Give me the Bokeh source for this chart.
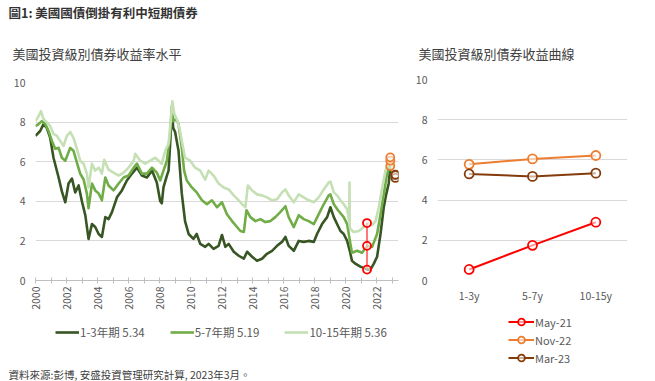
import math
from bokeh.plotting import figure
from bokeh.layouts import row, column
from bokeh.models import Legend, LegendItem, FixedTicker, Range1d, FactorRange, Title
from bokeh.embed import file_html
from bokeh.resources import INLINE

# ---------------- data ----------------
dates_13 = [2000.0, 2000.3, 2000.52, 2000.73, 2000.95, 2001.16, 2001.49, 2001.7, 2001.92, 2002.13,
            2002.35, 2002.56, 2002.78, 2002.99, 2003.21, 2003.42, 2003.64, 2003.85, 2004.07, 2004.28,
            2004.5, 2004.71, 2004.93, 2005.25, 2005.57, 2005.89, 2006.22, 2006.54, 2006.86, 2007.18,
            2007.51, 2007.82, 2008.04, 2008.14, 2008.25, 2008.47, 2008.58, 2008.68, 2008.79, 2008.88,
            2009.0, 2009.22, 2009.43, 2009.64, 2009.87, 2010.18, 2010.39, 2010.62, 2010.94, 2011.16,
            2011.48, 2011.8, 2012.02, 2012.24, 2012.45, 2012.78, 2013.1, 2013.43, 2013.64, 2013.96,
            2014.28, 2014.6, 2014.92, 2015.25, 2015.57, 2015.89, 2016.11, 2016.32, 2016.65, 2016.97,
            2017.29, 2017.61, 2017.94, 2018.15, 2018.47, 2018.8, 2019.01, 2019.23, 2019.44, 2019.66,
            2019.87, 2020.09, 2020.26, 2020.4, 2020.62, 2020.94, 2021.27, 2021.38, 2021.59, 2021.81,
            2022.02, 2022.24, 2022.45, 2022.62, 2022.77, 2022.87, 2023.09, 2023.2]
yield_13 = [7.3, 7.55, 7.9, 7.7, 7.2, 6.2, 5.2, 4.5, 3.95, 4.9,
            5.15, 4.45, 4.8, 4.0, 3.3, 2.1, 2.85, 2.7, 2.35, 2.2,
            3.2, 3.1, 3.45, 4.2, 4.55, 5.05, 5.4, 5.7, 5.3, 5.2,
            5.55, 4.95, 4.0, 3.9, 4.7, 5.3, 5.55, 6.9, 8.5, 7.7,
            7.5, 6.55, 4.4, 3.0, 2.35, 2.1, 2.35, 1.85, 1.7, 1.85,
            1.6, 1.75, 2.3, 1.7, 1.85, 1.45, 1.25, 1.1, 1.45, 1.2,
            1.0, 1.1, 1.35, 1.5, 1.75, 1.95, 2.2, 1.75, 1.5, 2.0,
            1.95, 2.0, 1.95, 2.35, 2.85, 3.2, 3.7, 3.2, 2.85, 2.5,
            2.35, 2.0, 1.5, 1.0, 0.85, 0.7, 0.6, 0.55, 0.55, 0.85,
            1.2, 2.35, 3.7, 4.4, 4.9, 5.75, 5.3, 5.34]

dates_57 = [2000.0, 2000.2, 2000.41, 2000.63, 2000.84, 2001.06, 2001.27, 2001.49, 2001.7, 2001.92,
            2002.24, 2002.45, 2002.67, 2002.88, 2003.1, 2003.31, 2003.42, 2003.64, 2003.85, 2004.07,
            2004.28, 2004.5, 2004.71, 2005.03, 2005.36, 2005.68, 2006.0, 2006.33, 2006.54, 2006.86,
            2007.18, 2007.51, 2007.82, 2008.04, 2008.25, 2008.47, 2008.68, 2008.79, 2008.88, 2009.07,
            2009.22, 2009.43, 2009.58, 2009.75, 2010.08, 2010.39, 2010.73, 2011.05, 2011.37, 2011.7,
            2012.02, 2012.34, 2012.67, 2012.99, 2013.21, 2013.43, 2013.6, 2013.85, 2014.18, 2014.5,
            2014.81, 2015.14, 2015.46, 2015.78, 2016.11, 2016.32, 2016.65, 2016.97, 2017.29, 2017.61,
            2017.94, 2018.26, 2018.58, 2018.9, 2019.01, 2019.23, 2019.5, 2019.87, 2020.09, 2020.3,
            2020.4, 2020.73, 2021.05, 2021.38, 2021.7, 2022.02, 2022.24, 2022.45, 2022.62, 2022.77,
            2022.87, 2023.09, 2023.2]
yield_57 = [7.8, 7.9, 8.05, 7.9, 7.55, 7.05, 6.65, 6.7, 6.2, 6.05,
            6.7, 6.55, 5.95, 5.4, 5.1, 4.4, 3.65, 4.9, 4.55, 4.4,
            4.05, 5.2, 4.8, 4.55, 4.9, 5.2, 5.3, 5.7, 5.9, 5.4,
            5.4, 5.7, 5.45, 5.05, 5.55, 6.05, 7.4, 8.8, 8.05, 8.15,
            7.9, 6.7, 5.55, 5.05, 4.7, 4.45, 4.05, 3.85, 4.05, 3.7,
            3.95, 3.35, 3.0, 2.7, 2.5, 2.45, 3.55, 3.2, 3.0, 3.1,
            2.95, 3.0, 3.2, 3.45, 3.75, 3.2, 2.7, 3.3, 3.1, 3.0,
            2.85, 3.35, 3.85, 4.3, 4.35, 3.85, 3.55, 3.2, 2.85, 1.85,
            1.4, 1.5, 1.4, 1.75, 1.7, 2.35, 3.35, 4.35, 5.2, 5.7,
            6.0, 5.2, 5.19]

dates_1015 = [2000.0, 2000.2, 2000.35, 2000.52, 2000.73, 2000.95, 2001.16, 2001.38, 2001.59, 2001.81,
              2002.02, 2002.24, 2002.45, 2002.67, 2002.88, 2003.1, 2003.31, 2003.42, 2003.64, 2003.85,
              2004.07, 2004.28, 2004.43, 2004.71, 2005.03, 2005.36, 2005.68, 2006.0, 2006.33, 2006.43,
              2006.75, 2007.08, 2007.4, 2007.72, 2007.93, 2008.14, 2008.36, 2008.58, 2008.73, 2008.82,
              2008.95, 2009.11, 2009.28, 2009.43, 2009.64, 2009.97, 2010.29, 2010.62, 2010.94, 2011.16,
              2011.48, 2011.8, 2012.13, 2012.45, 2012.78, 2013.1, 2013.32, 2013.53, 2013.69, 2013.96,
              2014.28, 2014.6, 2014.92, 2015.25, 2015.57, 2015.89, 2016.11, 2016.32, 2016.65, 2016.97,
              2017.29, 2017.61, 2017.94, 2018.26, 2018.58, 2018.9, 2019.01, 2019.23, 2019.44, 2019.66,
              2019.87, 2020.09, 2020.22, 2020.24, 2020.26, 2020.3, 2020.51, 2020.84, 2021.16, 2021.38,
              2021.7, 2021.92, 2022.13, 2022.35, 2022.56, 2022.77, 2022.87, 2023.09, 2023.2]
yield_1015 = [8.05, 8.3, 8.55, 8.15, 8.0, 7.8, 7.4, 7.3, 7.05, 6.8,
              7.3, 7.5, 7.2, 6.65, 6.05, 5.9, 5.4, 4.7, 5.9, 5.55,
              5.7, 5.4, 6.1, 5.6, 5.45, 5.3, 5.45, 5.7, 6.05, 6.4,
              6.05, 5.9, 6.05, 6.2, 6.05, 5.9, 6.55, 6.9, 8.2, 9.05,
              8.4, 8.15, 7.7, 7.05, 6.2, 6.05, 5.7, 5.55, 5.1, 5.55,
              5.3, 4.9, 4.7, 4.6, 4.3, 4.05, 3.85, 3.7, 4.8, 4.55,
              4.35, 4.3, 4.2, 4.05, 4.1, 4.45, 4.6, 4.3, 3.95, 4.35,
              4.2, 4.05, 3.95, 4.2, 4.6, 4.95, 5.0, 4.45, 4.3, 4.05,
              3.85, 3.6, 3.0, 4.95, 2.7, 2.6, 2.45, 2.5, 2.7, 2.9,
              2.8, 3.0, 3.7, 4.7, 5.55, 6.05, 6.2, 5.4, 5.36]

series_names = ["1-3年期 5.34", "5-7年期 5.19", "10-15年期 5.36"]

tenors = ["1-3y", "5-7y", "10-15y"]
snapshot_names = ["May-21", "Nov-22", "Mar-23"]
snapshot_dates = [2021.37, 2022.87, 2023.2]
curve_may21 = [0.55, 1.75, 2.9]
curve_nov22 = [5.78, 6.05, 6.22]
curve_mar23 = [5.3, 5.18, 5.34]

year_ticks = list(range(2000, 2024))
year_labels = {y: (str(y) if y % 2 == 0 else "") for y in year_ticks}
yield_ticks = [0, 2, 4, 6, 8, 10]

main_title = "圖1: 美國國債倒掛有利中短期債券"
left_title = "美國投資級別債券收益率水平"
right_title = "美國投資級別債券收益曲線"
footer_text = "資料來源:彭博, 安盛投資管理研究計算, 2023年3月。"

# ---------------- style ----------------
FONT = "Noto Sans CJK TC"
GREY = "#595959"
GRID = "#d9d9d9"
C_DARK, C_MID, C_LIGHT = "#375623", "#70ad47", "#c5e0b4"
C_RED, C_ORANGE, C_BROWN = "#ff0000", "#ed7d31", "#843c0c"
series_colors = [C_DARK, C_MID, C_LIGHT]
snap_curves = [curve_may21, curve_nov22, curve_mar23]
snap_colors = [C_RED, C_ORANGE, C_BROWN]

# off-screen sample so that legend-only renderers still draw their keys
hidden_x = [-5]
hidden_y = [-5]


def legend_box(width, height, left, right, bottom):
    f = figure(width=width, height=height, x_range=Range1d(0, 1), y_range=Range1d(0, 1),
               x_axis_type=None, y_axis_type=None, output_backend="svg", toolbar_location=None,
               min_border_left=left, min_border_right=right, min_border_top=0,
               min_border_bottom=bottom)
    f.outline_line_color = None
    f.grid.visible = False
    return f


# ---------------- left chart ----------------
p1 = figure(width=400, height=315, x_range=Range1d(2000, 2023.4), y_range=Range1d(0, 10),
            output_backend="svg", toolbar_location=None,
            min_border_left=35, min_border_right=2, min_border_top=82, min_border_bottom=35)
p1.outline_line_color = None
p1.xgrid.visible = False
p1.ygrid.ticker = FixedTicker(ticks=[2, 4, 6, 8, 10])
p1.ygrid.grid_line_color = GRID
p1.yaxis.ticker = FixedTicker(ticks=yield_ticks)
p1.yaxis.axis_line_color = None
p1.yaxis.major_tick_line_color = None
p1.yaxis.major_tick_out = 0
p1.yaxis.major_tick_in = 0
p1.yaxis.minor_tick_line_color = None
p1.yaxis.major_label_standoff = 10
p1.xaxis.ticker = FixedTicker(ticks=year_ticks)
p1.xaxis.major_label_overrides = year_labels
p1.xaxis.major_label_orientation = math.pi / 2
p1.xaxis.axis_line_color = "#bfbfbf"
p1.xaxis.major_tick_line_color = "#bfbfbf"
p1.xaxis.major_tick_in = 3
p1.xaxis.major_tick_out = 3
p1.xaxis.minor_tick_line_color = None
p1.xaxis.major_label_standoff = 3
for ax in (p1.xaxis, p1.yaxis):
    ax.major_label_text_font = FONT
    ax.major_label_text_color = GREY
    ax.major_label_text_font_size = "10.5px"

p1.line(dates_13, yield_13, line_color=C_DARK, line_width=2.6, line_join="round")
p1.line(dates_57, yield_57, line_color=C_MID, line_width=2.6, line_join="round")
p1.line(dates_1015, yield_1015, line_color=C_LIGHT, line_width=2.6, line_join="round")

for d, vals, c in zip(snapshot_dates, snap_curves, snap_colors):
    p1.line([d] * len(vals), vals, line_color=c, line_width=1.5, line_alpha=0.7)
    p1.scatter([d] * len(vals), vals, marker="circle", size=8, line_color=c, line_width=1.8,
               fill_color="white", fill_alpha=0.6)

p1.add_layout(Title(text=left_title, align="left", offset=-23, standoff=40,
                    text_font=FONT, text_font_size="13px", text_font_style="normal",
                    text_color="#404040"), "above")
p1.add_layout(Title(text=main_title, align="left", offset=-27, standoff=0,
                    text_font=FONT, text_font_size="12.5px", text_font_style="bold",
                    text_color="#333333"), "above")

# legend strip + footer under the left chart
lg1 = legend_box(400, 66, 35, 2, 16)
items1 = []
for name, c in zip(series_names, series_colors):
    r = lg1.line(x=hidden_x, y=hidden_y, line_color=c, line_width=2.6)
    items1.append(LegendItem(label=name, renderers=[r]))
leg1 = Legend(items=items1, orientation="horizontal", location=(20, 24), padding=0, margin=0,
              spacing=25, glyph_width=24, glyph_height=14, label_height=14, label_standoff=1,
              label_text_font=FONT, label_text_font_size="11.5px", label_text_color=GREY,
              border_line_color=None, background_fill_alpha=0)
lg1.add_layout(leg1, "center")
lg1.add_layout(Title(text=footer_text, align="left", offset=-27, standoff=0,
                     text_font=FONT, text_font_size="10.5px", text_font_style="normal",
                     text_color="#404040"), "below")

# ---------------- right chart ----------------
p2 = figure(width=247, height=308, x_range=FactorRange(factors=tenors), y_range=Range1d(0, 10),
            output_backend="svg", toolbar_location=None,
            min_border_left=37, min_border_right=20, min_border_top=79, min_border_bottom=28)
p2.outline_line_color = None
p2.xgrid.visible = False
p2.ygrid.ticker = FixedTicker(ticks=yield_ticks)
p2.ygrid.grid_line_color = GRID
p2.yaxis.ticker = FixedTicker(ticks=yield_ticks)
for ax in (p2.xaxis, p2.yaxis):
    ax.axis_line_color = None
    ax.major_tick_line_color = None
    ax.major_tick_out = 0
    ax.major_tick_in = 0
    ax.minor_tick_line_color = None
    ax.major_label_text_font = FONT
    ax.major_label_text_color = GREY
    ax.major_label_text_font_size = "10.5px"
p2.yaxis.major_label_standoff = 10
p2.xaxis.major_label_standoff = 7

for vals, c in zip(snap_curves, snap_colors):
    p2.line(tenors, vals, line_color=c, line_width=2)
    p2.scatter(tenors, vals, marker="circle", size=9, line_color=c, line_width=1.8,
               fill_color="white", fill_alpha=0.6)

p2.add_layout(Title(text=right_title, align="left", offset=-19, standoff=34,
                    text_font=FONT, text_font_size="13px", text_font_style="normal",
                    text_color="#404040"), "above")

lg2 = legend_box(247, 73, 37, 20, 0)
items2 = []
for name, c in zip(snapshot_names, snap_colors):
    rl = lg2.line(x=hidden_x, y=hidden_y, line_color=c, line_width=2)
    rs = lg2.scatter(x=hidden_x, y=hidden_y, marker="circle", size=9, line_color=c,
                     line_width=1.8, fill_color="white", fill_alpha=0.6)
    items2.append(LegendItem(label=name, renderers=[rl, rs]))
leg2 = Legend(items=items2, orientation="vertical", location=(71, 15), padding=0, margin=0,
              spacing=1, glyph_width=26, glyph_height=17, label_height=17, label_standoff=1,
              label_text_font=FONT, label_text_font_size="11px", label_text_color=GREY,
              border_line_color=None, background_fill_alpha=0)
lg2.add_layout(leg2, "center")

layout = row(column(p1, lg1), column(p2, lg2))
open("out.html", "w").write(file_html(layout, INLINE))
